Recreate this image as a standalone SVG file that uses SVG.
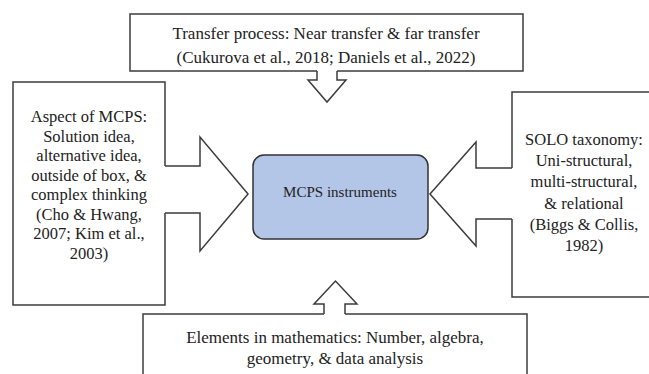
<svg xmlns="http://www.w3.org/2000/svg" width="649" height="374" viewBox="0 0 649 374">
<style>
.box{fill:#ffffff;stroke:#3c3c3c;stroke-width:1.5;stroke-linejoin:miter}
.arr{fill:#ffffff;stroke:#3c3c3c;stroke-width:1.5;stroke-linejoin:miter}
.core{fill:#b4c6e7;stroke:#333333;stroke-width:1.5}
.t{font-size:16.5px;fill:#222222;text-anchor:middle}
.w{font-size:17px}
.c{font-size:15px}
</style>
<rect width="649" height="374" fill="#ffffff"/>
<g id="connectors">
<path class="arr" d="M317,71 V80 H308 L327,102 L346,80 H337 V71"/>
<path class="arr" d="M165,166 H200 V137 L248,194 L200,251 V213 H165"/>
<path class="arr" d="M512,168 H476 V142 L430,194 L476,246 V219 H512"/>
<path class="arr" d="M324,314 V304 H314 L335.5,281 L357,304 H345 V314"/>
</g>
<g class="t" font-family="'Liberation Serif', 'DejaVu Serif', serif">
<g id="transfer">
<path class="box" d="M317,71 H130 V14 H523 V71 H337"/>
<text class="w" x="326" y="39">Transfer process: Near transfer &amp; far transfer</text>
<text class="w" x="326" y="63">(Cukurova et al., 2018; Daniels et al., 2022)</text>
</g>
<g id="aspect">
<path class="box" d="M165,166 V82 H13 V305 H165 V213"/>
<text x="89" y="122">Aspect of MCPS:</text>
<text x="89" y="141.5">Solution idea,</text>
<text x="89" y="161">alternative idea,</text>
<text x="89" y="180.5">outside of box, &amp;</text>
<text x="89" y="200">complex thinking</text>
<text x="89" y="219.5">(Cho &amp; Hwang,</text>
<text x="89" y="239">2007; Kim et al.,</text>
<text x="89" y="258.5">2003)</text>
</g>
<g id="solo">
<path class="box" d="M512,168 V92 H660 V297 H512 V219"/>
<text x="584" y="145">SOLO taxonomy:</text>
<text x="584" y="166">Uni-structural,</text>
<text x="584" y="187">multi-structural,</text>
<text x="584" y="209">&amp; relational</text>
<text x="584" y="230">(Biggs &amp; Collis,</text>
<text x="584" y="251">1982)</text>
</g>
<g id="elements">
<path class="box" d="M324,314 H143 V380 H527 V314 H345"/>
<text class="w" x="335" y="343">Elements in mathematics: Number, algebra,</text>
<text class="w" x="335" y="364">geometry, &amp; data analysis</text>
</g>
<g id="instruments">
<rect class="core" x="253" y="155" width="175" height="84" rx="11"/>
<text class="c" x="340" y="197">MCPS instruments</text>
</g>
</g>
</svg>
